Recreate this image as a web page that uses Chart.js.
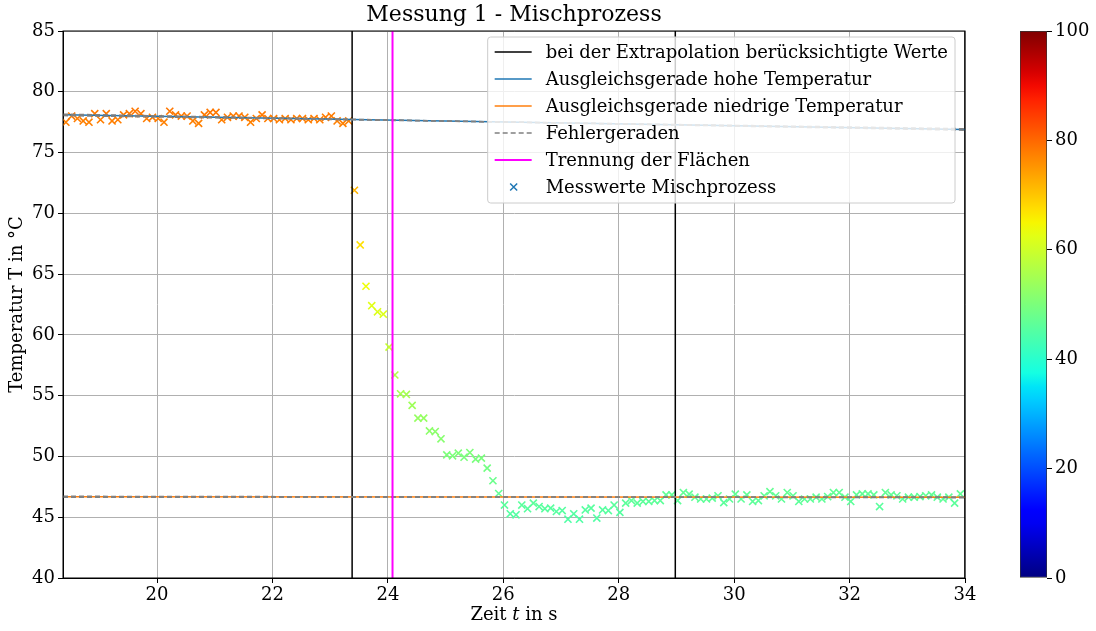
<!DOCTYPE html>
<html>
<head>
<meta charset="utf-8">
<script src="https://cdn.jsdelivr.net/npm/chart.js@4.4.0/dist/chart.umd.min.js"></script>
<style>
  body { margin: 0; background: #fff; width: 1096px; height: 631px; overflow: hidden; position: relative; }
  #main { position: absolute; left: 0; top: 0; }
  #cbar { position: absolute; left: 990px; top: 0; }
</style>
</head>
<body>
<canvas id="main" width="985" height="631"></canvas>
<canvas id="cbar" width="106" height="631"></canvas>
<script>
// measured data (time in s, temperature in °C)
const times = [
  18.42, 18.52, 18.62, 18.72, 18.82, 18.92, 19.02, 19.12, 19.22, 19.32,
  19.42, 19.52, 19.62, 19.72, 19.82, 19.92, 20.02, 20.12, 20.22, 20.32,
  20.42, 20.52, 20.62, 20.72, 20.82, 20.92, 21.02, 21.12, 21.22, 21.32,
  21.42, 21.52, 21.62, 21.72, 21.82, 21.92, 22.02, 22.12, 22.22, 22.32,
  22.42, 22.52, 22.62, 22.72, 22.82, 22.92, 23.02, 23.12, 23.22, 23.32,
  23.42, 23.52, 23.62, 23.72, 23.82, 23.92, 24.02, 24.12, 24.22, 24.32,
  24.42, 24.52, 24.62, 24.72, 24.82, 24.92, 25.02, 25.12, 25.22, 25.32,
  25.42, 25.52, 25.62, 25.72, 25.82, 25.92, 26.02, 26.12, 26.22, 26.32,
  26.42, 26.52, 26.62, 26.72, 26.82, 26.92, 27.02, 27.12, 27.22, 27.32,
  27.42, 27.52, 27.62, 27.72, 27.82, 27.92, 28.02, 28.12, 28.22, 28.32,
  28.42, 28.52, 28.62, 28.72, 28.82, 28.92, 29.02, 29.12, 29.22, 29.32,
  29.42, 29.52, 29.62, 29.72, 29.82, 29.92, 30.02, 30.12, 30.22, 30.32,
  30.42, 30.52, 30.62, 30.72, 30.82, 30.92, 31.02, 31.12, 31.22, 31.32,
  31.42, 31.52, 31.62, 31.72, 31.82, 31.92, 32.02, 32.12, 32.22, 32.32,
  32.42, 32.52, 32.62, 32.72, 32.82, 32.92, 33.02, 33.12, 33.22, 33.32,
  33.42, 33.52, 33.62, 33.72, 33.82, 33.92
];
const temps = [
  77.5, 78.0, 77.8, 77.6, 77.5, 78.2, 77.7, 78.2, 77.6, 77.7,
  78.1, 78.2, 78.4, 78.2, 77.8, 77.9, 77.8, 77.5, 78.4, 78.1,
  78.0, 78.0, 77.6, 77.4, 78.1, 78.3, 78.3, 77.7, 77.9, 78.0,
  78.0, 77.9, 77.5, 77.8, 78.1, 77.8, 77.8, 77.7, 77.8, 77.7,
  77.8, 77.8, 77.7, 77.8, 77.7, 77.9, 78.0, 77.6, 77.4, 77.6,
  71.9, 67.4, 64.0, 62.4, 61.9, 61.7, 59.0, 56.7, 55.15, 55.1,
  54.2, 53.15, 53.15, 52.1, 52.05, 51.45, 50.13, 50.05, 50.27, 49.94,
  50.32, 49.78, 49.86, 49.04, 48.0, 46.95, 46.0, 45.28, 45.2, 46.0,
  45.7, 46.16, 45.88, 45.7, 45.75, 45.47, 45.55, 44.84, 45.28, 44.84,
  45.6, 45.75, 44.93, 45.6, 45.55, 46.0, 45.4, 46.16, 46.37, 46.16,
  46.3, 46.3, 46.37, 46.37, 46.84, 46.84, 46.37, 47.03, 46.9, 46.65,
  46.5, 46.5, 46.57, 46.76, 46.2, 46.5, 46.9, 46.5, 46.84, 46.3,
  46.37, 46.76, 47.1, 46.76, 46.5, 47.03, 46.76, 46.3, 46.5, 46.5,
  46.65, 46.5, 46.7, 47.03, 47.03, 46.65, 46.3, 46.84, 46.92, 46.92,
  46.84, 45.88, 47.03, 46.84, 46.76, 46.5, 46.65, 46.65, 46.7, 46.76,
  46.84, 46.65, 46.5, 46.65, 46.16, 46.92
];

// fit lines, evaluated at both ends of the time range
const fitTimes = [18.37, 34];
const highFit = [78.1, 76.9];
const lowFit = [46.68, 46.64];
const highErrA = [78.16, 76.84];
const highErrB = [78.04, 76.96];
const lowErrA = [46.72, 46.61];
const lowErrB = [46.64, 46.67];

// vertical markers
const extrapolationTimes = [23.38, 28.98, 34];
const separationTime = 24.08;

// axes
const xRange = [18.37, 34];
const yRange = [40, 85];
const xTicks = [20, 22, 24, 26, 28, 30, 32, 34];
const yTicks = [40, 45, 50, 55, 60, 65, 70, 75, 80, 85];
const cbarRange = [0, 100];
const cbarTicks = [0, 20, 40, 60, 80, 100];

const FONT = 'DejaVu Serif';
const FS = 18;

// matplotlib "jet"
function interp(v, pts) {
  for (let i = 1; i < pts.length; i++) {
    if (v <= pts[i][0]) {
      const [x0, y0] = pts[i - 1], [x1, y1] = pts[i];
      return y0 + (y1 - y0) * (v - x0) / (x1 - x0);
    }
  }
  return pts[pts.length - 1][1];
}
function jet(v) {
  v = Math.max(0, Math.min(1, v));
  const r = interp(v, [[0, 0], [0.35, 0], [0.66, 1], [0.89, 1], [1, 0.5]]);
  const g = interp(v, [[0, 0], [0.125, 0], [0.375, 1], [0.64, 1], [0.91, 0], [1, 0]]);
  const b = interp(v, [[0, 0.5], [0.11, 1], [0.34, 1], [0.65, 0], [1, 0]]);
  return `rgb(${Math.round(r * 255)},${Math.round(g * 255)},${Math.round(b * 255)})`;
}
const toColor = t => jet((t - cbarRange[0]) / (cbarRange[1] - cbarRange[0]));

const line = (label, xs, ys, color, width, dash, order) => ({
  label,
  data: xs.map((x, i) => ({ x, y: ys[i] })),
  showLine: true,
  borderColor: color,
  backgroundColor: color,
  borderWidth: width,
  borderDash: dash,
  pointRadius: 0,
  fill: false,
  order
});

const datasets = [];
extrapolationTimes.forEach(t => {
  datasets.push(line('bei der Extrapolation berücksichtigte Werte', [t, t], yRange, '#000000', 1.5, [], 5));
});
datasets.push(line('Ausgleichsgerade hohe Temperatur', fitTimes, highFit, '#1f77b4', 1.5, [], 4));
datasets.push(line('Ausgleichsgerade niedrige Temperatur', fitTimes, lowFit, '#ff7f0e', 1.5, [], 4));
[highErrA, highErrB, lowErrA, lowErrB].forEach(ys => {
  datasets.push(line('Fehlergeraden', fitTimes, ys, '#808080', 1.5, [5, 3], 3));
});
datasets.push(line('Trennung der Flächen', [separationTime, separationTime], yRange, '#ff00ff', 2, [], 2));
datasets.push({
  label: 'Messwerte Mischprozess',
  data: times.map((t, i) => ({ x: t, y: temps[i] })),
  showLine: false,
  pointStyle: 'crossRot',
  pointRadius: 5,
  pointBorderWidth: 1.6,
  pointBorderColor: temps.map(toColor),
  pointBackgroundColor: temps.map(toColor),
  legendColor: '#1f77b4',
  order: 10
});

const framePlugin = {
  id: 'frame',
  afterDatasetsDraw(chart) {
    const { ctx, chartArea: a } = chart;
    ctx.save();
    ctx.strokeStyle = '#000';
    ctx.lineWidth = 1;
    ctx.strokeRect(a.left, a.top, a.right - a.left, a.bottom - a.top);
    ctx.restore();
  }
};

const legendPlugin = {
  id: 'boxLegend',
  afterDraw(chart) {
    const { ctx, chartArea: a } = chart;
    const seen = new Set();
    const items = chart.data.datasets.filter(ds => !seen.has(ds.label) && seen.add(ds.label));
    ctx.save();
    ctx.font = `${FS}px "${FONT}"`;
    const textW = Math.max(...items.map(d => ctx.measureText(d.label).width));
    const rowH = 27;
    const w = 58 + textW + 7;
    const h = 15 + (items.length - 1) * rowH + 16;
    const x = a.right - 10 - w;
    const y = a.top + 6;
    ctx.beginPath();
    ctx.roundRect(x, y, w, h, 3);
    ctx.fillStyle = 'rgba(255,255,255,0.8)';
    ctx.fill();
    ctx.strokeStyle = '#cccccc';
    ctx.lineWidth = 1;
    ctx.stroke();
    items.forEach((d, i) => {
      const cy = y + 15 + i * rowH;
      if (d.showLine) {
        ctx.beginPath();
        ctx.strokeStyle = d.borderColor;
        ctx.lineWidth = d.borderWidth;
        ctx.setLineDash(d.borderDash || []);
        ctx.moveTo(x + 7, cy);
        ctx.lineTo(x + 44, cy);
        ctx.stroke();
        ctx.setLineDash([]);
      } else {
        const cx = x + 26, r = 3.5;
        ctx.beginPath();
        ctx.strokeStyle = d.legendColor;
        ctx.lineWidth = 1.5;
        ctx.moveTo(cx - r, cy - r); ctx.lineTo(cx + r, cy + r);
        ctx.moveTo(cx - r, cy + r); ctx.lineTo(cx + r, cy - r);
        ctx.stroke();
      }
      ctx.fillStyle = '#000';
      ctx.textBaseline = 'middle';
      ctx.textAlign = 'left';
      ctx.fillText(d.label, x + 58, cy + 1);
    });
    ctx.restore();
  }
};

// x axis title with italic t
const xTitlePlugin = {
  id: 'xTitle',
  afterDraw(chart) {
    const { ctx, chartArea: a } = chart;
    const parts = [['Zeit ', 'normal'], ['t', 'italic'], [' in s', 'normal']];
    ctx.save();
    ctx.fillStyle = '#000';
    ctx.textBaseline = 'middle';
    ctx.textAlign = 'left';
    const widths = parts.map(([s, st]) => { ctx.font = `${st} ${FS}px "${FONT}"`; return ctx.measureText(s).width; });
    let x = (a.left + a.right) / 2 - widths.reduce((p, c) => p + c, 0) / 2;
    parts.forEach(([s, st], i) => {
      ctx.font = `${st} ${FS}px "${FONT}"`;
      ctx.fillText(s, x, 615);
      x += widths[i];
    });
    ctx.restore();
  }
};

const tickFont = { family: FONT, size: FS };
const gridCfg = { color: '#b0b0b0', lineWidth: 1, tickColor: '#000', tickLength: 5 };

new Chart(document.getElementById('main'), {
  type: 'scatter',
  data: { datasets },
  options: {
    responsive: false,
    animation: false,
    devicePixelRatio: 1,
    events: [],
    layout: { padding: { right: 20 } },
    plugins: {
      legend: { display: false },
      tooltip: { enabled: false },
      title: {
        display: true,
        text: 'Messung 1 - Mischprozess',
        fullSize: false,
        color: '#000',
        font: { family: FONT, size: 22, weight: 'normal' },
        padding: { top: 2, bottom: 2.6 }
      }
    },
    scales: {
      x: {
        type: 'linear',
        min: xRange[0],
        max: xRange[1],
        afterBuildTicks: s => { s.ticks = xTicks.map(v => ({ value: v })); },
        afterFit: s => { s.height = 53; },
        ticks: { font: tickFont, color: '#000', padding: 2, maxRotation: 0, autoSkip: false },
        grid: gridCfg,
        border: { color: '#000', width: 1 }
      },
      y: {
        min: yRange[0],
        max: yRange[1],
        afterBuildTicks: s => { s.ticks = yTicks.map(v => ({ value: v })); },
        afterFit: s => { s.width = 63; },
        ticks: { font: tickFont, color: '#000', padding: 3 },
        grid: gridCfg,
        border: { color: '#000', width: 1 },
        title: {
          display: true,
          text: 'Temperatur T in °C',
          color: '#000',
          font: { family: FONT, size: FS },
          padding: { top: 7, bottom: 0 }
        }
      }
    }
  },
  plugins: [framePlugin, legendPlugin, xTitlePlugin]
});

// colorbar
new Chart(document.getElementById('cbar'), {
  type: 'bar',
  data: {
    labels: [''],
    datasets: [{
      data: [cbarRange[1]],
      backgroundColor: c => {
        const a = c.chart.chartArea;
        if (!a) return '#fff';
        const g = c.chart.ctx.createLinearGradient(0, a.bottom, 0, a.top);
        for (let i = 0; i <= 40; i++) g.addColorStop(i / 40, jet(i / 40));
        return g;
      },
      borderColor: '#333',
      borderWidth: 1,
      borderSkipped: false,
      barPercentage: 1,
      categoryPercentage: 1
    }]
  },
  options: {
    responsive: false,
    animation: false,
    devicePixelRatio: 1,
    events: [],
    layout: { padding: { left: 30, top: 31, bottom: 53, right: 0 } },
    plugins: { legend: { display: false }, tooltip: { enabled: false } },
    scales: {
      x: { display: false },
      y: {
        position: 'right',
        min: cbarRange[0],
        max: cbarRange[1],
        afterBuildTicks: s => { s.ticks = cbarTicks.map(v => ({ value: v })); },
        afterFit: s => { s.width = 49; },
        ticks: { font: tickFont, color: '#000', padding: 3 },
        grid: { drawOnChartArea: false, tickColor: '#000', tickLength: 5 },
        border: { display: false }
      }
    }
  }
});
</script>
</body>
</html>
